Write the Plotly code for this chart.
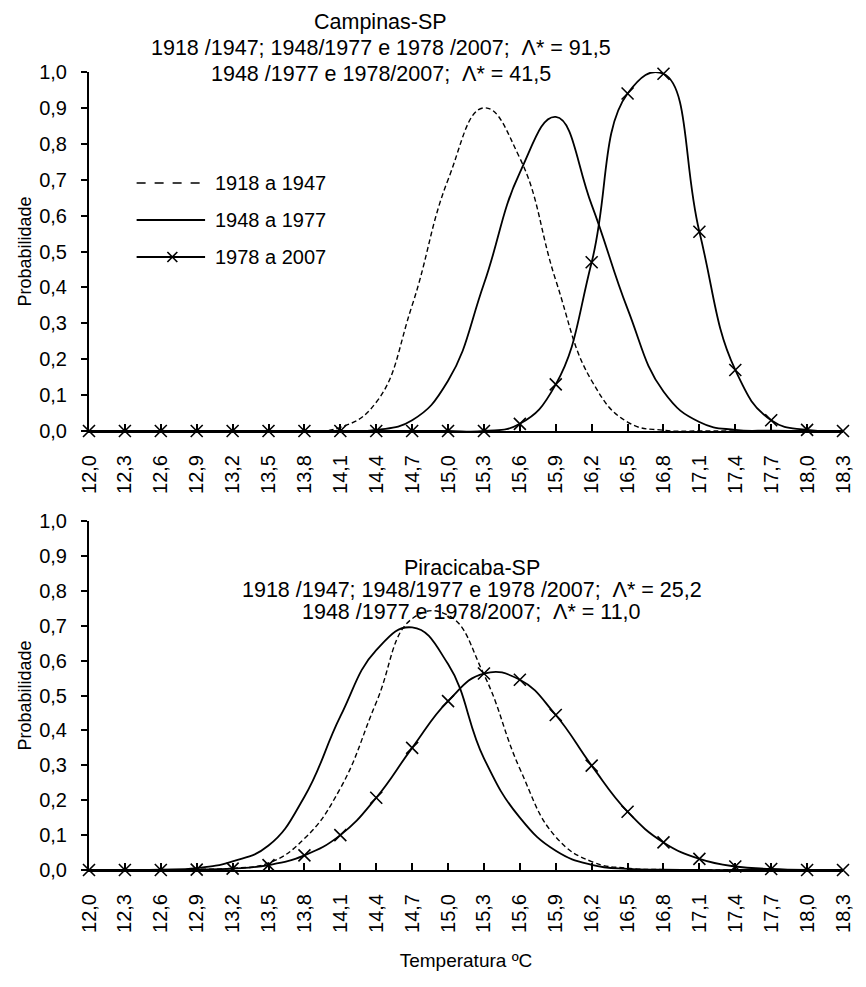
import plotly.graph_objects as go

# Temperature classes (ºC) and their tick labels
temps = [12.0, 12.3, 12.6, 12.9, 13.2, 13.5, 13.8, 14.1, 14.4, 14.7, 15.0,
         15.3, 15.6, 15.9, 16.2, 16.5, 16.8, 17.1, 17.4, 17.7, 18.0, 18.3]
temp_labels = ["12,0", "12,3", "12,6", "12,9", "13,2", "13,5", "13,8", "14,1",
               "14,4", "14,7", "15,0", "15,3", "15,6", "15,9", "16,2", "16,5",
               "16,8", "17,1", "17,4", "17,7", "18,0", "18,3"]

periods = ["1918 a 1947", "1948 a 1977", "1978 a 2007"]

# Campinas-SP probabilities per period
campinas_1918 = [0, 0, 0, 0, 0, 0, 0, 0.01, 0.08, 0.35, 0.70, 0.90, 0.76, 0.42,
                 0.14, 0.025, 0.002, 0, 0, 0, 0, 0]
campinas_1948 = [0, 0, 0, 0, 0, 0, 0, 0, 0.003, 0.03, 0.14, 0.41, 0.72, 0.875,
                 0.63, 0.34, 0.11, 0.025, 0.003, 0.001, 0, 0]
campinas_1978 = [0, 0, 0, 0, 0, 0, 0, 0, 0, 0, 0, 0, 0.02, 0.13, 0.47, 0.94,
                 0.995, 0.555, 0.17, 0.03, 0.003, 0]

# Piracicaba-SP probabilities per period
piracicaba_1918 = [0, 0, 0, 0.002, 0.005, 0.02, 0.09, 0.234, 0.48, 0.72, 0.73,
                   0.56, 0.29, 0.095, 0.024, 0.005, 0.001, 0, 0, 0, 0, 0]
piracicaba_1948 = [0, 0, 0.001, 0.005, 0.025, 0.07, 0.21, 0.44, 0.63, 0.695,
                   0.59, 0.32, 0.15, 0.055, 0.015, 0.003, 0.001, 0, 0, 0, 0, 0]
piracicaba_1978 = [0, 0, 0, 0.001, 0.004, 0.014, 0.042, 0.10, 0.207, 0.35,
                   0.484, 0.563, 0.545, 0.444, 0.299, 0.167, 0.079, 0.032,
                   0.01, 0.003, 0, 0]

campinas_title = ["Campinas-SP",
                  "1918 /1947; 1948/1977 e 1978 /2007;  Λ* = 91,5",
                  "1948 /1977 e 1978/2007;  Λ* = 41,5"]
piracicaba_title = ["Piracicaba-SP",
                    "1918 /1947; 1948/1977 e 1978 /2007;  Λ* = 25,2",
                    "1948 /1977 e 1978/2007;  Λ* = 11,0"]

FONT = "Liberation Sans, Arial, sans-serif"
W, H = 866, 987
M_L, M_R, M_T, M_B = 89, 17, 72, 117
PLOT_W = W - M_L - M_R
PLOT_H = H - M_T - M_B


def paper_y(row):
    return (H - M_B - row) / PLOT_H


def paper_x(col):
    return (col - M_L) / PLOT_W


styles = [
    dict(dash="5px,3px", width=1.4, marker=False),
    dict(dash="solid", width=1.8, marker=False),
    dict(dash="solid", width=1.8, marker=True),
]

fig = go.Figure()


def add_panel(series, xa, ya):
    for vals, st in zip(series, styles):
        fig.add_trace(go.Scatter(
            x=temps, y=vals, mode="lines", xaxis=xa, yaxis=ya,
            line=dict(color="black", width=st["width"], dash=st["dash"],
                      shape="spline", smoothing=1.3),
            showlegend=False, hoverinfo="skip"))
        if st["marker"]:
            fig.add_trace(go.Scatter(
                x=temps, y=vals, mode="markers", xaxis=xa, yaxis=ya,
                cliponaxis=False,
                marker=dict(symbol="x-thin", size=12, color="black",
                            line=dict(width=1.6, color="black")),
                showlegend=False, hoverinfo="skip"))


add_panel([campinas_1918, campinas_1948, campinas_1978], "x", "y")
add_panel([piracicaba_1918, piracicaba_1948, piracicaba_1978], "x2", "y2")

xaxis_common = dict(
    range=[12.0, 18.3], tickmode="array", tickvals=temps, ticktext=temp_labels,
    tickangle=-90, ticks="inside", ticklen=7, tickwidth=1.5, tickcolor="black",
    showline=True, linecolor="black", linewidth=2, showgrid=False,
    zeroline=False, tickfont=dict(family=FONT, size=20, color="black"),
    ticklabelstandoff=14,
)
yaxis_common = dict(
    range=[0, 1], dtick=0.1, tick0=0, tickformat=".1f", ticks="outside",
    ticklen=6, tickwidth=1.5, tickcolor="black", showline=True,
    linecolor="black", linewidth=2, showgrid=False, zeroline=False,
    tickfont=dict(family=FONT, size=20, color="black"), ticklabelstandoff=10,
    title=dict(text="Probabilidade", font=dict(family=FONT, size=18, color="black"),
               standoff=3),
)

fig.update_layout(
    width=W, height=H, margin=dict(l=M_L, r=M_R, t=M_T, b=M_B),
    paper_bgcolor="white", plot_bgcolor="white", separators=",.",
    font=dict(family=FONT, color="black"),
    xaxis=dict(domain=[0, 1], anchor="y", **xaxis_common),
    yaxis=dict(domain=[paper_y(431), 1], anchor="x", **yaxis_common),
    xaxis2=dict(domain=[0, 1], anchor="y2", **xaxis_common,
                title=dict(text="Temperatura ºC",
                           font=dict(family=FONT, size=19, color="black"),
                           standoff=22)),
    yaxis2=dict(domain=[0, paper_y(521)], anchor="x2", **yaxis_common),
)

# Panel titles
for lines, rows, cx in [(campinas_title, [22, 48, 74], 383),
                        (piracicaba_title, [568, 590, 612], 475)]:
    for txt, r in zip(lines, rows):
        fig.add_annotation(text=txt, xref="paper", yref="paper",
                           x=paper_x(cx), y=paper_y(r), showarrow=False,
                           xanchor="center", yanchor="middle",
                           font=dict(family=FONT, size=21.5, color="black"))

# Legend drawn inside the upper panel
legend_rows = [183, 220, 257]
for name, st, r in zip(periods, styles, legend_rows):
    y = paper_y(r)
    fig.add_shape(type="line", xref="paper", yref="paper",
                  x0=paper_x(137), x1=paper_x(206), y0=y, y1=y,
                  line=dict(color="black", width=st["width"],
                            dash="dash" if st["dash"] != "solid" else "solid"))
    if st["marker"]:
        cx, d = 173, 5
        for sgn in (1, -1):
            fig.add_shape(type="line", xref="paper", yref="paper",
                          x0=paper_x(cx - d), x1=paper_x(cx + d),
                          y0=paper_y(r - sgn * d), y1=paper_y(r + sgn * d),
                          line=dict(color="black", width=1.6))
    fig.add_annotation(text=name, xref="paper", yref="paper",
                       x=paper_x(214), y=y, showarrow=False,
                       xanchor="left", yanchor="middle",
                       font=dict(family=FONT, size=20, color="black"))

fig.write_html("out.html")
